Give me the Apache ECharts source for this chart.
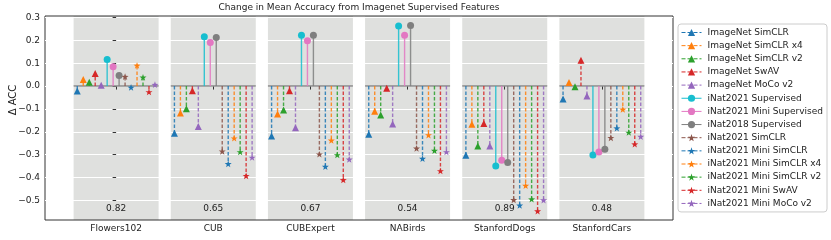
<!DOCTYPE html>
<html><head><meta charset="utf-8">
<script src="https://cdn.jsdelivr.net/npm/echarts@6/dist/echarts.min.js"></script>
<style>html,body{margin:0;padding:0;background:#fff}#c{width:831px;height:240px}</style>
</head><body><div id="c"></div>
<script>
// ---- data ----
const datasets = ['Flowers102', 'CUB', 'CUBExpert', 'NABirds', 'StanfordDogs', 'StanfordCars'];
const bottomValues = [0.82, 0.65, 0.67, 0.54, 0.89, 0.48];
const yTicks = [-0.5, -0.4, -0.3, -0.2, -0.1, 0.0, 0.1, 0.2, 0.3];
const seriesNames = [
  'ImageNet SimCLR', 'ImageNet SimCLR x4', 'ImageNet SimCLR v2', 'ImageNet SwAV', 'ImageNet MoCo v2',
  'iNat2021 Supervised', 'iNat2021 Mini Supervised', 'iNat2018 Supervised',
  'iNat2021 SimCLR', 'iNat2021 Mini SimCLR', 'iNat2021 Mini SimCLR x4', 'iNat2021 Mini SimCLR v2',
  'iNat2021 Mini SwAV', 'iNat2021 Mini MoCo v2'
];
const imagenetSimclr      = [-0.022, -0.206, -0.218, -0.211, -0.302, -0.057];
const imagenetSimclrX4    = [ 0.029, -0.118, -0.122, -0.110, -0.167,  0.016];
const imagenetSimclrV2    = [ 0.017, -0.099, -0.105, -0.126, -0.262, -0.003];
const imagenetSwav        = [ 0.055, -0.020, -0.020, -0.010, -0.164,  0.113];
const imagenetMoco        = [ 0.004, -0.177, -0.182, -0.166, -0.262, -0.043];
const inat21Sup           = [ 0.116,  0.215,  0.222,  0.262, -0.349, -0.301];
const inat21MiniSup       = [ 0.084,  0.190,  0.198,  0.222, -0.324, -0.288];
const inat18Sup           = [ 0.046,  0.212,  0.222,  0.265, -0.334, -0.276];
const inat21Simclr        = [ 0.041, -0.285, -0.298, -0.272, -0.497, -0.226];
const inat21MiniSimclr    = [-0.006, -0.340, -0.352, -0.317, -0.521, -0.184];
const inat21MiniSimclrX4  = [ 0.090, -0.228, -0.237, -0.214, -0.435, -0.102];
const inat21MiniSimclrV2  = [ 0.038, -0.288, -0.301, -0.282, -0.494, -0.203];
const inat21MiniSwav      = [-0.026, -0.392, -0.410, -0.371, -0.546, -0.254];
const inat21MiniMoco      = [ 0.006, -0.312, -0.320, -0.288, -0.498, -0.221];
const seriesValues = [
  imagenetSimclr, imagenetSimclrX4, imagenetSimclrV2, imagenetSwav, imagenetMoco,
  inat21Sup, inat21MiniSup, inat18Sup,
  inat21Simclr, inat21MiniSimclr, inat21MiniSimclrX4, inat21MiniSimclrV2, inat21MiniSwav, inat21MiniMoco
];
const seriesMarkers = ['tri','tri','tri','tri','tri','circle','circle','circle','star','star','star','star','star','star'];

// ---- styling ----
const colors = ['#1f77b4','#ff7f0e','#2ca02c','#d62728','#9467bd','#17becf','#e377c2','#7f7f7f',
                '#8c564b','#1f77b4','#ff7f0e','#2ca02c','#d62728','#9467bd'];
const STAR = 'path://M0,-10 L2.35,-3.24 L9.51,-3.09 L3.8,1.24 L5.88,8.09 L0,4 L-5.88,8.09 L-3.8,1.24 L-9.51,-3.09 L-2.35,-3.24 Z';
const symbolOf = {tri: 'triangle', circle: 'circle', star: STAR};
const GROUP_HALF = 0.4375;
const STEP = 0.0615;
const TEXT_Y = -0.536;
const FONT = 'DejaVu Sans';
function xPos(g, i) { return g + (i - 6.5) * STEP; }

const chart = echarts.init(document.getElementById('c'), null, {renderer: 'canvas'});
const series = [];

// bands + bottom numbers
series.push({
  type: 'custom', z: 0, silent: true,
  data: datasets.map((d, g) => [g, bottomValues[g]]),
  renderItem(params, api) {
    const g = api.value(0);
    const cs = params.coordSys;
    const p0 = api.coord([g - GROUP_HALF, 0]);
    const p1 = api.coord([g + GROUP_HALF, 0]);
    const t = api.coord([g, TEXT_Y]);
    return {type: 'group', children: [
      {type: 'rect', shape: {x: p0[0], y: cs.y, width: p1[0] - p0[0], height: cs.height}, style: {fill: '#dfe0de'}},
      {type: 'text', x: t[0], y: t[1], style: {text: api.value(1).toFixed(2), fill: '#222', font: '9px "DejaVu Sans"', align: 'center', verticalAlign: 'middle'}}
    ]};
  }
});
// baselines
series.push({
  type: 'custom', z: 2, silent: true,
  data: datasets.map((d, g) => [g, 0]),
  renderItem(params, api) {
    const g = api.value(0);
    const p0 = api.coord([g - GROUP_HALF, 0]);
    const p1 = api.coord([g + GROUP_HALF, 0]);
    return {type: 'line', shape: {x1: p0[0], y1: p0[1], x2: p1[0], y2: p1[1]}, style: {stroke: '#8a8a8a', lineWidth: 1.6}};
  }
});
seriesNames.forEach((name, i) => {
  const pts = seriesValues[i].map((v, g) => [xPos(g, i), v]);
  const dashed = seriesMarkers[i] !== 'circle';
  series.push({
    type: 'custom', z: 3, silent: true,
    data: pts,
    renderItem(params, api) {
      const x = api.value(0), v = api.value(1);
      const a = api.coord([x, 0]), b = api.coord([x, v]);
      return {type: 'line', shape: {x1: a[0], y1: a[1], x2: b[0], y2: b[1]},
        style: {stroke: colors[i], lineWidth: 1.4, lineDash: dashed ? [3.5, 2] : null, opacity: 0.85}};
    }
  });
  series.push({
    type: 'line', name: name, z: 4,
    data: pts,
    symbol: symbolOf[seriesMarkers[i]],
    symbolKeepAspect: true,
    symbolSize: 7,
    showSymbol: true,
    lineStyle: {opacity: 0},
    itemStyle: {color: colors[i], opacity: 1},
    emphasis: {disabled: true},
    animation: false
  });
});

const option = {
  animation: false,
  grid: {left: 45, right: 158, top: 16, bottom: 20, show: true, borderColor: '#333', borderWidth: 1, z: 1, backgroundColor: 'transparent'},
  xAxis: {
    type: 'value', min: -0.732, max: 5.732, z: 1,
    splitLine: {show: false},
    axisLine: {show: false},
    axisTick: {show: true, customValues: [0, 1, 2, 3, 4, 5], length: 3.5, lineStyle: {color: '#333'}},
    axisLabel: {customValues: [0, 1, 2, 3, 4, 5], formatter: v => datasets[Math.round(v)], margin: 4,
      fontSize: 9, fontFamily: FONT, color: '#222'}
  },
  yAxis: {
    type: 'value', min: -0.585, max: 0.306, z: 1,
    axisLine: {show: false},
    axisTick: {show: true, customValues: yTicks, length: 3.5, lineStyle: {color: '#333'}},
    axisLabel: {customValues: yTicks, formatter: v => v.toFixed(1).replace('-', '\u2212'), margin: 5,
      fontSize: 9, fontFamily: FONT, color: '#222'},
    splitLine: {show: true, lineStyle: {color: '#ffffff', width: 1}}
  },
  legend: {
    orient: 'vertical', left: 678, top: 24,
    itemWidth: 20, itemHeight: 9, itemGap: 4.15,
    padding: [4, 4, 4, 3],
    borderColor: '#cccccc', borderWidth: 1, borderRadius: 3, backgroundColor: '#fff',
    textStyle: {fontSize: 9, fontFamily: FONT, color: '#222', padding: [0, 0, 0, 1]},
    selectedMode: false,
    data: seriesNames.map((n, i) => ({
      name: n,
      lineStyle: {opacity: 1, color: colors[i], width: 1, type: seriesMarkers[i] === 'circle' ? 'solid' : 'dashed'},
      itemStyle: {color: colors[i], opacity: 1}
    }))
  },
  graphic: [
    {type: 'text', x: 359, y: 8, style: {text: 'Change in Mean Accuracy from Imagenet Supervised Features', font: '9px "DejaVu Sans"', fill: '#222', align: 'center', verticalAlign: 'middle'}},
    {type: 'text', x: 13, y: 100, rotation: Math.PI / 2, style: {text: '\u0394 ACC', font: '10px "DejaVu Sans"', fill: '#222', align: 'center', verticalAlign: 'middle'}}
  ],
  series: series
};
chart.setOption(option);
</script>
</body></html>
